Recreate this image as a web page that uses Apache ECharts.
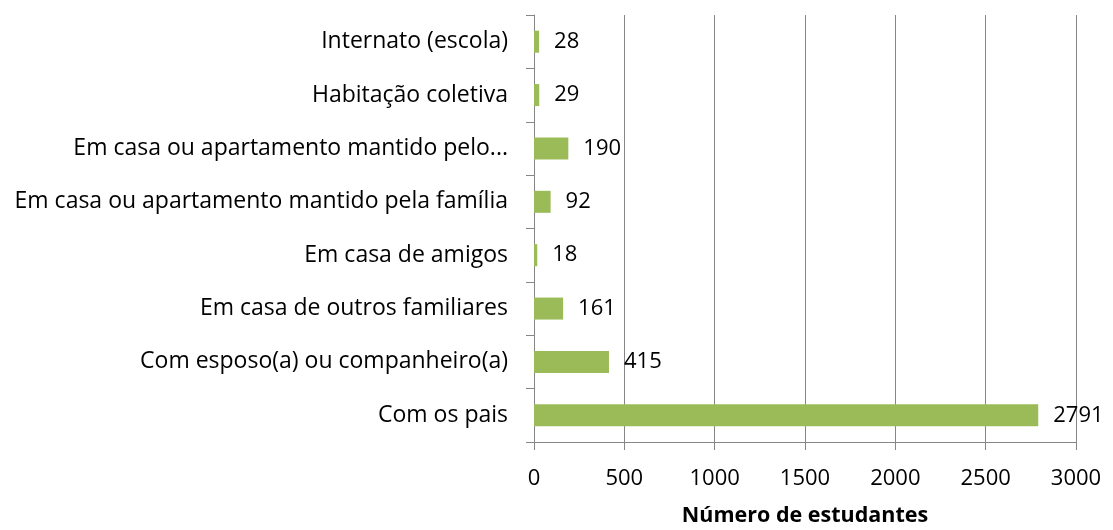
<!DOCTYPE html>
<html>
<head>
<meta charset="utf-8">
<script src="https://cdn.jsdelivr.net/npm/echarts@6/dist/echarts.min.js"></script>
<style>
  html, body { margin: 0; padding: 0; background: #fff; }
  #chart { width: 1113px; height: 530px; }
</style>
</head>
<body>
<div id="chart"></div>
<script>
// categorias (de baixo para cima)
var categories = [
  'Com os pais',
  'Com esposo(a) ou companheiro(a)',
  'Em casa de outros familiares',
  'Em casa de amigos',
  'Em casa ou apartamento mantido pela família',
  'Em casa ou apartamento mantido pelo...',
  'Habitação coletiva',
  'Internato (escola)'
];
var estudantes = [2791, 415, 161, 18, 92, 190, 29, 28];
var xTicks = [0, 500, 1000, 1500, 2000, 2500, 3000];

var chart = echarts.init(document.getElementById('chart'));
var fontFam = '"Open Sans", sans-serif';

var option = {
  animation: false,
  grid: { left: 534, right: 37, top: 15, bottom: 88, outerBoundsMode: 'none', containLabel: false },
  xAxis: {
    type: 'value',
    min: xTicks[0],
    max: xTicks[xTicks.length - 1],
    interval: 500,
    name: 'Número de estudantes',
    nameLocation: 'middle',
    nameGap: 63,
    nameTextStyle: { fontFamily: fontFam, fontSize: 21.5, fontWeight: 'bold', color: '#000' },
    axisLine: { show: true, lineStyle: { color: '#868686' } },
    axisTick: { show: true, length: 8, lineStyle: { color: '#868686' } },
    axisLabel: {
      fontFamily: fontFam, fontSize: 22, color: '#000', margin: 26,
      formatter: function (v) { return String(v); }
    },
    splitLine: { show: true, lineStyle: { color: '#868686' } }
  },
  yAxis: {
    type: 'category',
    data: categories,
    axisLine: { show: true, lineStyle: { color: '#868686' } },
    axisTick: { show: true, length: 8, lineStyle: { color: '#868686' } },
    axisLabel: { fontFamily: fontFam, fontSize: 23, color: '#000', margin: 26 },
    splitLine: { show: false }
  },
  series: [{
    type: 'bar',
    data: estudantes,
    barWidth: 22,
    itemStyle: { color: '#9BBB59' },
    label: {
      show: true,
      position: 'right',
      distance: 15,
      fontFamily: fontFam,
      fontSize: 22,
      color: '#000'
    }
  }]
};
chart.setOption(option);
</script>
</body>
</html>
